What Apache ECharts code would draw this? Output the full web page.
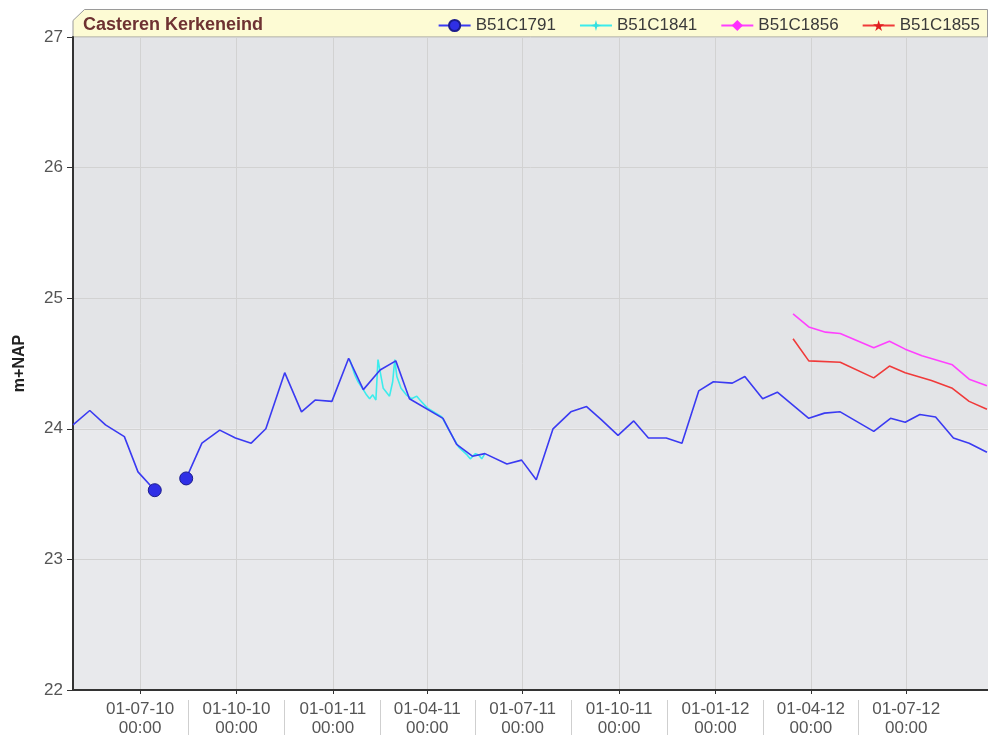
<!DOCTYPE html>
<html>
<head>
<meta charset="utf-8">
<script src="https://cdn.jsdelivr.net/npm/echarts@6/dist/echarts.min.js"></script>
<style>
html,body{margin:0;padding:0;background:#ffffff;}
#chart{width:988px;height:737px;}
</style>
</head>
<body>
<div id="chart"></div>
<script>
// ---- data ----
const chartTitle = 'Casteren Kerkeneind';
const yAxisName = 'm+NAP';
const xMin = '2010-04-28';
const xMax = '2012-09-17';
const yMin = 22, yMax = 27, yStep = 1;
const quarterTicks = ['2010-07-01','2010-10-01','2011-01-01','2011-04-01','2011-07-01','2011-10-01','2012-01-01','2012-04-01','2012-07-01'];
const seriesNames = ['B51C1791','B51C1841','B51C1856','B51C1855'];

const b1791Dates = ['2010-04-28','2010-05-14','2010-05-29','2010-06-16','2010-06-29','2010-07-15','2010-07-30',
  '2010-08-14','2010-08-29','2010-09-15','2010-09-30','2010-10-15','2010-10-29','2010-11-16','2010-12-02','2010-12-15','2010-12-31',
  '2011-01-16','2011-01-30','2011-02-15','2011-03-02','2011-03-15','2011-04-16','2011-04-29','2011-05-14','2011-05-26','2011-06-16','2011-06-30',
  '2011-07-14','2011-07-30','2011-08-16','2011-08-31','2011-09-14','2011-09-30','2011-10-15','2011-10-29','2011-11-15','2011-11-30','2011-12-16','2011-12-30',
  '2012-01-17','2012-01-29','2012-02-15','2012-02-29','2012-03-30','2012-04-14','2012-04-29','2012-05-31','2012-06-16','2012-06-30',
  '2012-07-14','2012-07-29','2012-08-15','2012-08-30','2012-09-16'];
const b1791Values = [24.03,24.14,24.03,23.94,23.67,23.53,null,
  23.62,23.89,23.99,23.93,23.89,24.00,24.43,24.13,24.22,24.21,
  24.54,24.30,24.45,24.52,24.23,24.08,23.88,23.79,23.81,23.73,23.76,
  23.61,24.00,24.13,24.17,24.07,23.95,24.06,23.93,23.93,23.89,24.29,24.36,
  24.35,24.40,24.23,24.28,24.08,24.12,24.13,23.98,24.08,24.05,
  24.11,24.09,23.93,23.89,23.82];

const b1841Dates = ['2011-01-17','2011-01-22','2011-01-25','2011-01-30','2011-02-02','2011-02-05','2011-02-08','2011-02-11','2011-02-13','2011-02-15',
  '2011-02-18','2011-02-24','2011-02-27','2011-03-01','2011-03-03','2011-03-07','2011-03-12','2011-03-17','2011-03-22','2011-03-25',
  '2011-04-01','2011-04-15','2011-04-21','2011-05-01','2011-05-09','2011-05-12','2011-05-17','2011-05-20','2011-05-23','2011-05-26'];
const b1841Values = [24.53,24.41,24.36,24.30,24.26,24.23,24.26,24.22,24.53,24.44,
  24.31,24.25,24.36,24.53,24.40,24.31,24.26,24.23,24.25,24.22,
  24.16,24.09,24.00,23.86,23.80,23.77,23.81,23.80,23.77,23.81];

const b1856Dates = ['2012-03-15','2012-03-30','2012-04-15','2012-04-29','2012-05-31','2012-06-15','2012-06-30','2012-07-16','2012-08-14','2012-08-30','2012-09-16'];
const b1856Values = [24.88,24.78,24.74,24.73,24.62,24.67,24.61,24.56,24.49,24.38,24.33];

const b1855Dates = ['2012-03-15','2012-03-30','2012-04-29','2012-05-31','2012-06-15','2012-06-30','2012-07-25','2012-08-14','2012-08-30','2012-09-16'];
const b1855Values = [24.69,24.52,24.51,24.39,24.48,24.43,24.37,24.31,24.21,24.15];

// ---- helpers ----
function toTime(s){ const p = s.split('-').map(Number); return new Date(p[0], p[1]-1, p[2]).getTime(); }
function pairs(dates, vals){ return dates.map((d,i)=>[toTime(d), vals[i]]); }
function pad(n){ return (n<10?'0':'')+n; }
function gapEdges(dates, vals){
  const out = [];
  for (let i=0;i<vals.length;i++){
    if (vals[i]==null) continue;
    const prevNull = i>0 && vals[i-1]==null;
    const nextNull = i<vals.length-1 && vals[i+1]==null;
    if (prevNull || nextNull) out.push([toTime(dates[i]), vals[i]]);
  }
  return out;
}
const tickTimes = quarterTicks.map(toTime);
const sepTimes = [];
for (let i=0;i<tickTimes.length-1;i++) sepTimes.push((tickTimes[i]+tickTimes[i+1])/2);

const STAR5 = 'path://M50,0 L61,35 L98,35 L68,57 L79,91 L50,70 L21,91 L32,57 L2,35 L39,35 Z';
const STAR4 = 'path://M50,0 L61,39 L100,50 L61,61 L50,100 L39,61 L0,50 L39,39 Z';
const FONT = '"Liberation Sans", Arial, sans-serif';

const chart = echarts.init(document.getElementById('chart'), null, {renderer:'canvas'});
chart.setOption({
  animation: false,
  backgroundColor: '#ffffff',
  graphic: [{
    type: 'polygon', z: 0, silent: true,
    shape: { points: [[73,37],[73,20.5],[84.5,9.5],[987.5,9.5],[987.5,37]] },
    style: { fill: '#fdfbd4', stroke: '#9a9a9a', lineWidth: 1 }
  }],
  title: {
    text: chartTitle, left: 83, top: 16, padding: 0,
    textStyle: { fontFamily: FONT, fontSize: 18, fontWeight: 'bold', color: '#6e3232' }
  },
  legend: {
    right: 8, top: 17, padding: 0, itemWidth: 32, itemHeight: 14, itemGap: 23,
    textStyle: { fontFamily: FONT, fontSize: 17, color: '#3a3a3a' },
    data: seriesNames
  },
  grid: { left: 73, right: 0, top: 37, bottom: 47, containLabel: false, outerBoundsMode: 'none' },
  xAxis: [{
    type: 'value', min: toTime(xMin), max: toTime(xMax),
    axisLine: { show: true, onZero: false, lineStyle: { color: '#333', width: 2 } },
    axisTick: { show: true, customValues: tickTimes, length: 4, lineStyle: { color: '#333' } },
    axisLabel: {
      show: true, customValues: tickTimes, margin: 10, fontFamily: FONT, fontSize: 17, color: '#555', lineHeight: 19,
      formatter: function(v){ const d = new Date(v); return pad(d.getDate())+'-'+pad(d.getMonth()+1)+'-'+pad(d.getFullYear()%100)+'\n'+pad(d.getHours())+':'+pad(d.getMinutes()); }
    },
    splitLine: { show: true, lineStyle: { color: '#d2d2d2', width: 1 } }
  },{
    type: 'value', min: toTime(xMin), max: toTime(xMax), position: 'bottom', offset: 10,
    axisLine: { show: false },
    axisLabel: { show: false },
    splitLine: { show: false },
    axisTick: { show: true, customValues: sepTimes, length: 35, lineStyle: { color: '#cfcfcf', width: 1 } }
  }],
  yAxis: {
    type: 'value', min: yMin, max: yMax, interval: yStep,
    name: yAxisName, nameLocation: 'middle', nameGap: 45,
    nameTextStyle: { fontFamily: FONT, fontSize: 16, fontWeight: 'bold', color: '#222' },
    axisLine: { show: true, lineStyle: { color: '#333', width: 2 } },
    axisTick: { show: true, length: 6, lineStyle: { color: '#333' } },
    axisLabel: { fontFamily: FONT, fontSize: 17, color: '#555', margin: 10 },
    splitLine: { show: true, lineStyle: { color: '#d2d2d2', width: 1 } },
    splitArea: { show: true, areaStyle: { color: ['#e8e9ec','#e8e9ec','#e3e4e7','#e3e4e7','#e3e4e7'] } }
  },
  series: [{
    name: seriesNames[0], type: 'line', data: pairs(b1791Dates, b1791Values),
    symbol: 'circle', showSymbol: false, connectNulls: false,
    lineStyle: { color: '#3a3af2', width: 1.6 }, itemStyle: { color: '#2f2fe6', borderColor: '#1c1c8c', borderWidth: 1 }, z: 3
  },{
    name: seriesNames[0], type: 'scatter', data: gapEdges(b1791Dates, b1791Values),
    symbol: 'circle', symbolSize: 13,
    itemStyle: { color: '#2f2fe6', borderColor: '#1c1c8c', borderWidth: 1, opacity: 1 }, z: 4
  },{
    name: seriesNames[1], type: 'line', data: pairs(b1841Dates, b1841Values),
    symbol: STAR4, showSymbol: false,
    lineStyle: { color: '#3cecec', width: 1.6 }, itemStyle: { color: '#33e0e0' }, z: 2
  },{
    name: seriesNames[2], type: 'line', data: pairs(b1856Dates, b1856Values),
    symbol: 'diamond', showSymbol: false,
    lineStyle: { color: '#ff40ff', width: 1.6 }, itemStyle: { color: '#ff30ff' }, z: 2
  },{
    name: seriesNames[3], type: 'line', data: pairs(b1855Dates, b1855Values),
    symbol: STAR5, showSymbol: false,
    lineStyle: { color: '#f03a3a', width: 1.6 }, itemStyle: { color: '#e02020' }, z: 2
  }]
});
</script>
</body>
</html>
